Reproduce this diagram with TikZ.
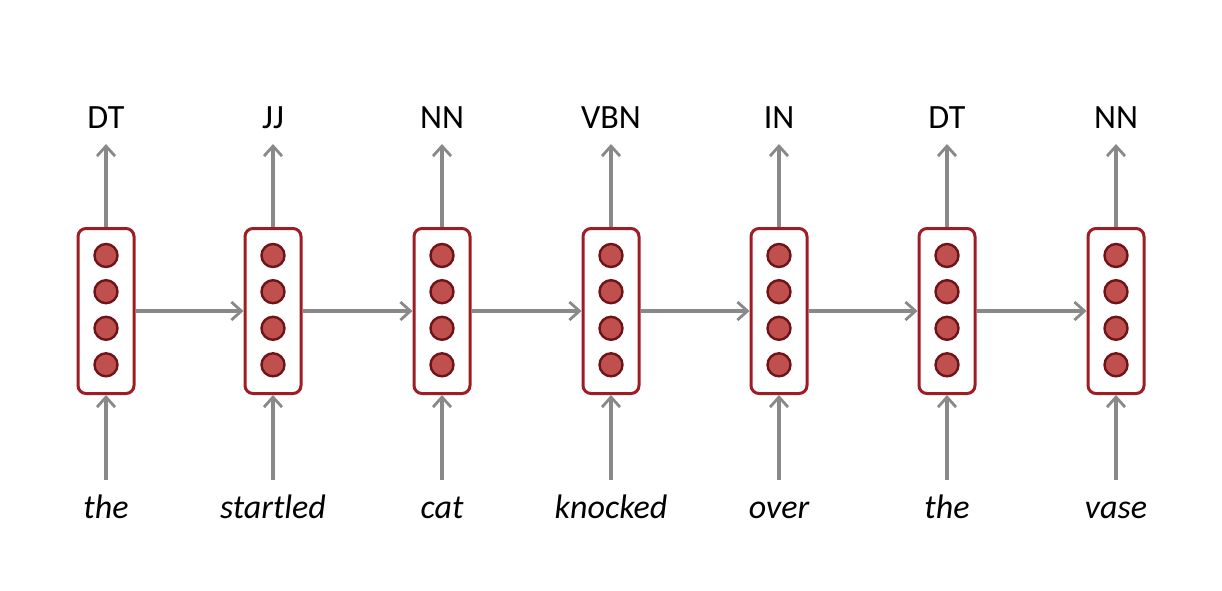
\documentclass[tikz,border=0pt]{standalone}
\usepackage{fontspec}
\setmainfont{Carlito}
\usetikzlibrary{arrows.meta}
\definecolor{boxred}{HTML}{9E1C24}
\definecolor{unitfill}{HTML}{C0504D}
\definecolor{unitdraw}{HTML}{6E1418}
\definecolor{arrgray}{HTML}{898989}
\begin{document}
\begin{tikzpicture}[x=1pt,y=-1pt,
  cell/.style={draw=boxred, line width=3pt, rounded corners=8pt, fill=white,
    minimum width=56pt, minimum height=165pt, inner sep=0pt},
  unit/.style={circle, draw=unitdraw, fill=unitfill, line width=2.4pt,
    minimum size=23pt, inner sep=0pt},
  arr/.style={draw=arrgray, line width=3.2pt,
    -{Straight Barb[length=10pt,width=18pt,line width=2.8pt]}},
  tagtext/.style={font=\fontsize{34}{40}\selectfont, inner sep=0pt},
  wordtext/.style={font=\fontsize{34}{40}\selectfont\itshape, inner sep=0pt}]
\useasboundingbox (0,0) rectangle (1222,590);
\foreach \i/\x/\tg/\wrd in {1/106/DT/the, 2/273/JJ/startled, 3/442/NN/cat,
    4/611/VBN/knocked, 5/779/IN/over, 6/947/DT/the, 7/1116/NN/vase} {
  \node[cell] (b\i) at (\x,311) {};
  \foreach \j/\y in {1/255.5, 2/291.7, 3/328.3, 4/364.8}
    \node[unit] (u\i\j) at (\x,\y) {};
  \node[tagtext, anchor=base] (t\i) at (\x,128) {\tg};
  \coordinate (top\i) at (\x,144);
  \node[wordtext, anchor=base] (w\i) at (\x,518) {\wrd};
  \coordinate (bot\i) at (\x,480);
  \draw[arr] (b\i.north) -- (top\i);
  \draw[arr] (bot\i) -- (b\i.south);
}
\foreach \a/\b in {1/2, 2/3, 3/4, 4/5, 5/6, 6/7}
  \draw[arr] (b\a.east) -- (b\b.west);
\end{tikzpicture}
\end{document}
